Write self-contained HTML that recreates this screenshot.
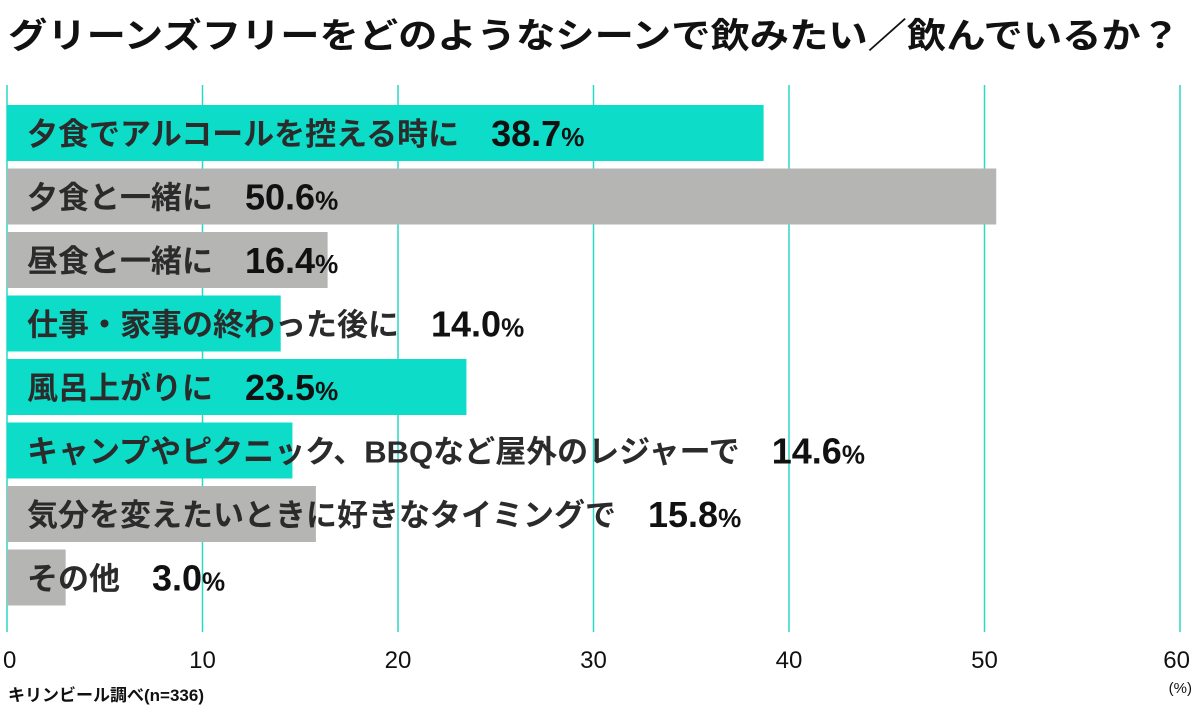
<!DOCTYPE html>
<html><head><meta charset="utf-8"><style>
html,body{margin:0;padding:0;background:#fff;}
svg{display:block;font-family:"Liberation Sans","Noto Sans CJK JP",sans-serif;}
</style></head><body>
<svg id="c" width="1200" height="713" viewBox="0 0 1200 713">
<text x="8" y="48" font-size="35" font-weight="bold" fill="#111" textLength="1172" lengthAdjust="spacingAndGlyphs">グリーンズフリーをどのようなシーンで飲みたい／飲んでいるか？</text>
<g id="grid"></g><g id="bars"></g><g id="ticks"></g>
<text x="1192" y="693" font-size="15" text-anchor="end" fill="#111">(%)</text>
<text x="8" y="701" font-size="17" font-weight="bold" fill="#111">キリンビール調べ(n=336)</text>
</svg>
<script>
const categories=["夕食でアルコールを控える時に","夕食と一緒に","昼食と一緒に","仕事・家事の終わった後に","風呂上がりに","キャンプやピクニック、BBQなど屋外のレジャーで","気分を変えたいときに好きなタイミングで","その他"];
const values=[38.7,50.6,16.4,14.0,23.5,14.6,15.8,3.0];
const highlight=[true,false,false,true,true,true,false,false];
const ticks=[0,10,20,30,40,50,60];
const NS="http://www.w3.org/2000/svg";
const x0=7,xPer=19.55,rowTop=105,rowPitch=63.5,barH=56;
const xs=v=>x0+v*xPer;
function mk(t,a,p){const e=document.createElementNS(NS,t);for(const k in a)e.setAttribute(k,a[k]);p.appendChild(e);return e;}
const grid=document.getElementById('grid'),bars=document.getElementById('bars'),tk=document.getElementById('ticks');
ticks.forEach(t=>{
 const l=mk('line',{x1:xs(t),x2:xs(t),y1:85,y2:632,stroke:'#2ad9c6','stroke-width':1.5},grid);
 
 
 const tx=mk('text',{x:xs(t),y:668,'font-size':24,'text-anchor':t===0?'start':(t===60?'end':'middle'),fill:'#111'},tk);
 if(t===0)tx.setAttribute('x',xs(t)-4);
 if(t===60)tx.setAttribute('x',xs(t)+10);
 tx.textContent=t;
 
 
});
categories.forEach((c,i)=>{
 const y=rowTop+i*rowPitch;
 const r=mk('rect',{x:x0,y:y,width:xs(values[i])-x0,height:barH,fill:highlight[i]?'#0cdcc8':'#b5b5b4'},bars);
 
 
 const lb=mk('text',{x:27,y:y+40,'font-size':31,'font-weight':'bold',fill:'#2b2b2b'},bars);
 lb.textContent=c;
 
 
 const w=lb.getComputedTextLength();
 const vt=mk('text',{x:27+w+32,y:y+41,'font-size':36,'font-weight':'bold',fill:'#111'},bars);
 
 
 const n=document.createElementNS(NS,'tspan');n.textContent=values[i].toFixed(1);vt.appendChild(n);
 const p=document.createElementNS(NS,'tspan');p.setAttribute('font-size','26');p.textContent='%';vt.appendChild(p);
});
</script>
</body></html>
